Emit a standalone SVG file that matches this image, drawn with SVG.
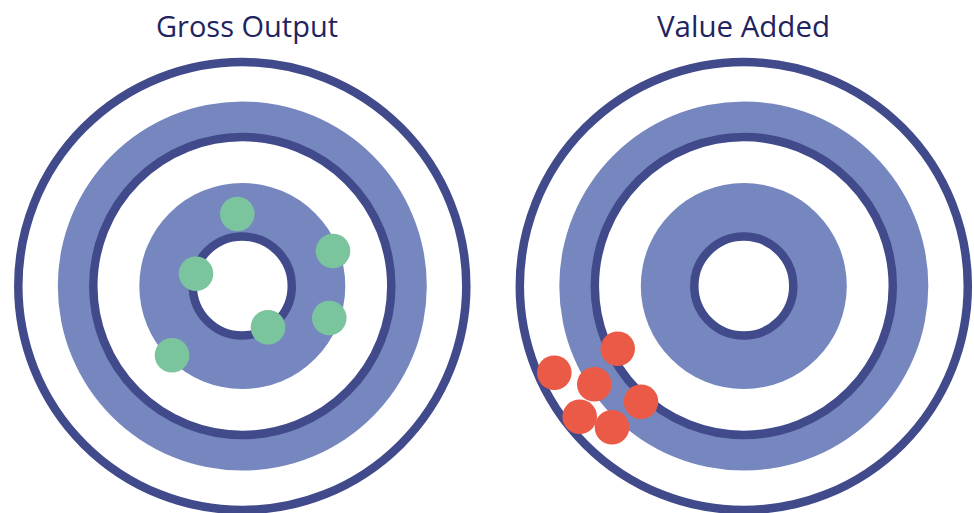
<svg xmlns="http://www.w3.org/2000/svg" width="974" height="513" viewBox="0 0 974 513">
<style>
.ring{fill:none;stroke:#414a8a;stroke-width:8.5}
.band{fill:#7687c0}
.white{fill:#ffffff}
.title{font-family:"Open Sans","Liberation Sans",sans-serif;font-size:29px;fill:#1f2460;text-anchor:middle}
.g{fill:#7bc59e}
.r{fill:#eb5a46}
</style>
<rect width="974" height="513" fill="#ffffff"/>
<g id="gross-output">
<text class="title" x="247" y="37" textLength="182" lengthAdjust="spacingAndGlyphs">Gross Output</text>
<circle class="ring" cx="242.3" cy="286" r="224"/>
<circle class="band" cx="242.3" cy="286" r="184.5"/>
<circle class="white" cx="242.3" cy="286" r="149"/>
<circle class="ring" cx="242.3" cy="286" r="149"/>
<circle class="band" cx="242.3" cy="286" r="103"/>
<circle class="white" cx="242.3" cy="286" r="49.5"/>
<circle class="ring" cx="242.3" cy="286" r="49.5"/>
<circle class="g" cx="237.3" cy="214" r="17.3"/>
<circle class="g" cx="333" cy="251" r="17.3"/>
<circle class="g" cx="196" cy="273.7" r="17.3"/>
<circle class="g" cx="268" cy="327.3" r="17.3"/>
<circle class="g" cx="329.3" cy="318" r="17.3"/>
<circle class="g" cx="172" cy="355.3" r="17.3"/>
</g>
<g id="value-added">
<text class="title" x="743.5" y="37" textLength="173" lengthAdjust="spacingAndGlyphs">Value Added</text>
<circle class="ring" cx="743.8" cy="286" r="224"/>
<circle class="band" cx="743.8" cy="286" r="184.5"/>
<circle class="white" cx="743.8" cy="286" r="149"/>
<circle class="ring" cx="743.8" cy="286" r="149"/>
<circle class="band" cx="743.8" cy="286" r="103"/>
<circle class="white" cx="743.8" cy="286" r="49.5"/>
<circle class="ring" cx="743.8" cy="286" r="49.5"/>
<circle class="r" cx="617.7" cy="348.7" r="17.3"/>
<circle class="r" cx="554.3" cy="372.7" r="17.3"/>
<circle class="r" cx="594.3" cy="384.3" r="17.3"/>
<circle class="r" cx="641" cy="401.7" r="17.3"/>
<circle class="r" cx="579.7" cy="416.7" r="17.3"/>
<circle class="r" cx="612" cy="427.3" r="17.3"/>
</g>
</svg>
